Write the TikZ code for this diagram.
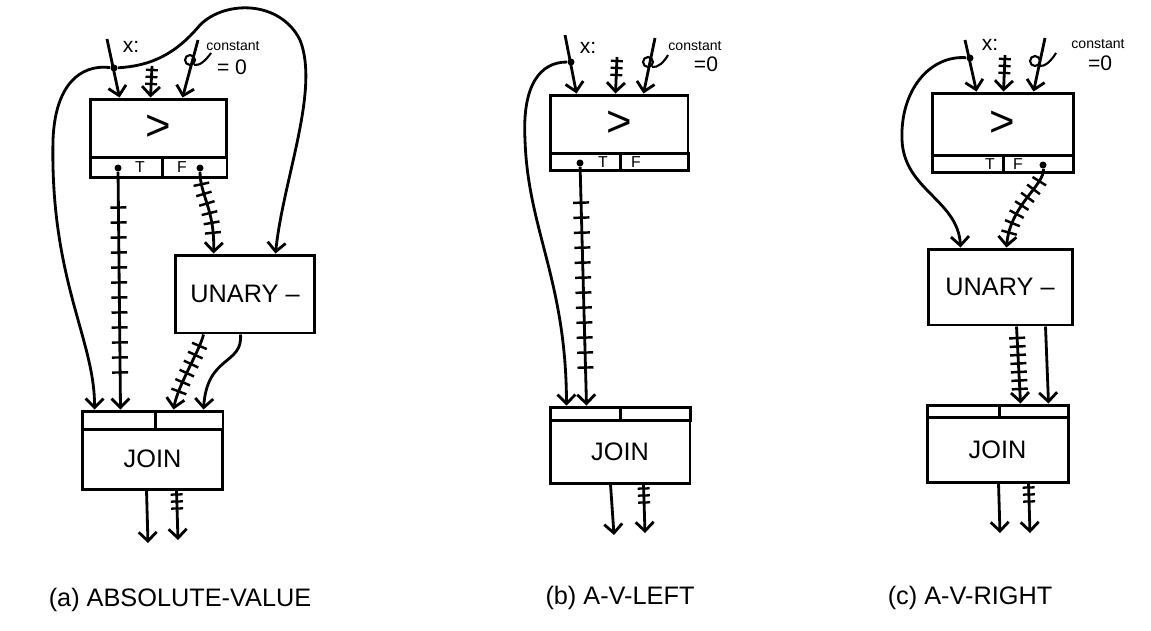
\documentclass[tikz,border=0pt]{standalone}
\usepackage{fontspec}
\setmainfont{Liberation Sans}
\usetikzlibrary{arrows.meta, decorations.markings}

\begin{document}
\begin{tikzpicture}[
    x=0.02cm, y=-0.02cm,
    >={Straight Barb[length=1.8mm, width=3.6mm]},
    box/.style={draw, rectangle, line width=1.7pt, inner sep=0pt, font=\Large},
    cell/.style={draw, rectangle, line width=1.7pt, inner sep=0pt},
    dot/.style={circle, fill, inner sep=0pt, minimum size=1.4mm},
    lbl/.style={inner sep=0pt, font=\small},
    wire/.style={->, line width=1.6pt},
    bundle/.style={wire, postaction={decorate}, decoration={markings,
        mark=between positions 0.15 and 0.85 step #1 with {\draw[-, line width=1.4pt] (0,-0.16cm) -- (0,0.16cm);}}},
    bundle/.default=0.3cm,
    fewticks/.style={wire, postaction={decorate}, decoration={markings,
        mark=between positions 0.08cm and 0.4cm step 0.14cm with {\draw[-, line width=1.3pt] (0,-0.12cm) -- (0,0.12cm);}}},
    curl/.style={line width=1.2pt}
]
    \useasboundingbox (0,0) rectangle (1151,630);

    % ---------- (a) ABSOLUTE-VALUE ----------
    % Блоки
    \node[box, minimum width=2.74cm, minimum height=1.16cm, font=\Huge] (gtA) at (158.5,128) {>};
    \node[cell, minimum width=1.44cm, minimum height=0.4cm] (tA) at (126,167) {};
    \node[cell, minimum width=1.30cm, minimum height=0.4cm] (fA) at (194.5,167) {};
    \node[lbl] at (140,167) {T};
    \node[lbl] at (182,167) {F};
    \node[box, minimum width=2.8cm, minimum height=1.56cm] (unA) at (245,294) {UNARY --};
    \node[cell, minimum width=1.46cm, minimum height=0.36cm] (j1A) at (118.5,420) {};
    \node[cell, minimum width=1.36cm, minimum height=0.36cm] (j2A) at (189,420) {};
    \node[box, minimum width=2.82cm, minimum height=1.2cm] (joinA) at (152.5,459) {JOIN};

    % Входы
    \coordinate (iA1) at (107,39);
    \coordinate (iA2) at (152,66);
    \coordinate (iA3) at (198,40);
    \node[dot] (dA) at (114,68) {};
    \node[dot] (tAo) at (118,168) {};
    \node[dot] (fAo) at (200,168) {};
    \node[inner sep=0pt, font=\large] at (131,47) {x:};
    \node[lbl, font=\footnotesize] at (233,46) {constant};
    \node[inner sep=0pt, font=\large] at (232,67) {= 0};
    \draw[wire] (iA1) -- ([xshift=0.62cm]gtA.north west);
    \draw[fewticks] (iA2) -- ([xshift=1.24cm]gtA.north west);
    \draw[wire] (iA3) -- ([xshift=1.88cm]gtA.north west);
    \draw[curl] (190,60) circle[radius=0.1cm];
    \draw[curl] (194,65) .. controls (200,66) and (206,60) .. (211,53);

    % Переходы
    \draw[wire] (dA) .. controls (80,64) and (55,85) .. (53,140) .. controls (50,280) and (95,340) .. ([xshift=0.28cm]j1A.north west);
    \draw[wire] (dA) .. controls (150,66) and (175,55) .. (200,25) .. controls (225,0) and (280,0) .. (300,40) .. controls (320,90) and (283,180) .. ([xshift=2.04cm]unA.north west);
    \draw[bundle=0.3cm] (tAo) -- ([xshift=0.8cm]j1A.north west);
    \draw[bundle=0.2cm] (fAo) .. controls (200,195) and (215,210) .. ([xshift=0.8cm]unA.north west);
    \draw[bundle=0.2cm] ([xshift=0.6cm]unA.south west) .. controls (200,350) and (178,385) .. ([xshift=0.4cm]j2A.north west);
    \draw[wire] ([xshift=1.34cm]unA.south west) .. controls (243,365) and (207,355) .. ([xshift=1cm]j2A.north west);

    % Выходы
    \coordinate (oA1) at (148,543);
    \coordinate (oA2) at (178,540);
    \draw[wire] ([xshift=1.32cm]joinA.south west) -- (oA1);
    \draw[fewticks] ([xshift=1.92cm]joinA.south west) -- (oA2);
    \node[font=\Large] (capA) at (180,600) {(a) ABSOLUTE-VALUE};

    % ---------- (b) A-V-LEFT ----------
    % Блоки
    \node[box, minimum width=2.76cm, minimum height=1.16cm, font=\Huge] (gtB) at (619,124) {>};
    \node[cell, minimum width=1.40cm, minimum height=0.34cm] (tB) at (585,161.5) {};
    \node[cell, minimum width=1.36cm, minimum height=0.34cm] (fB) at (654,161.5) {};
    \node[lbl] at (603,162) {T};
    \node[lbl] at (636,162) {F};
    \node[cell, minimum width=1.4cm, minimum height=0.26cm] (j1B) at (585,413.5) {};
    \node[cell, minimum width=1.4cm, minimum height=0.26cm] (j2B) at (655,413.5) {};
    \node[box, minimum width=2.8cm, minimum height=1.26cm] (joinB) at (620,451.5) {JOIN};

    % Входы
    \coordinate (iB1) at (565,35);
    \coordinate (iB2) at (617,57);
    \coordinate (iB3) at (655,38);
    \node[dot] (dB) at (571,62) {};
    \node[dot] (tBo) at (580,163) {};
    \node[inner sep=0pt, font=\large] at (588,48) {x:};
    \node[lbl, font=\footnotesize] at (695,46) {constant};
    \node[inner sep=0pt, font=\large] at (706,64) {=0};
    \draw[wire] (iB1) -- ([xshift=0.56cm]gtB.north west);
    \draw[fewticks] (iB2) -- ([xshift=1.34cm]gtB.north west);
    \draw[wire] (iB3) -- ([xshift=1.9cm]gtB.north west);
    \draw[curl] (648,62) circle[radius=0.1cm];
    \draw[curl] (652,67) .. controls (658,68) and (664,62) .. (668,55);

    % Переходы
    \draw[wire] (dB) .. controls (540,62) and (522,85) .. (525,140) .. controls (528,230) and (566,280) .. ([xshift=0.36cm]j1B.north west);
    \draw[bundle=0.3cm] (tBo) -- ([xshift=0.76cm]j1B.north west);

    % Выходы
    \coordinate (oB1) at (614,535);
    \coordinate (oB2) at (645,533);
    \draw[wire] ([xshift=1.24cm]joinB.south west) -- (oB1);
    \draw[fewticks] ([xshift=1.9cm]joinB.south west) -- (oB2);
    \node[font=\Large] (capB) at (620,598) {(b) A-V-LEFT};

    % ---------- (c) A-V-RIGHT ----------
    % Блоки
    \node[box, minimum width=2.82cm, minimum height=1.24cm, font=\Huge] (gtC) at (1002.5,124) {>};
    \node[cell, minimum width=1.42cm, minimum height=0.34cm] (tC) at (967.5,163.5) {};
    \node[cell, minimum width=1.40cm, minimum height=0.34cm] (fC) at (1038,163.5) {};
    \node[lbl] at (990,164) {T};
    \node[lbl] at (1018,164) {F};
    \node[box, minimum width=2.88cm, minimum height=1.52cm] (unC) at (1000,287) {UNARY --};
    \node[cell, minimum width=1.44cm, minimum height=0.24cm] (j1C) at (963,411) {};
    \node[cell, minimum width=1.38cm, minimum height=0.24cm] (j2C) at (1033.5,411) {};
    \node[box, minimum width=2.82cm, minimum height=1.3cm] (joinC) at (997.5,449.5) {JOIN};

    % Входы
    \coordinate (iC1) at (965,40);
    \coordinate (iC2) at (1005,55);
    \coordinate (iC3) at (1045,38);
    \node[dot] (dC) at (970,58) {};
    \node[dot] (fCo) at (1043,165) {};
    \node[inner sep=0pt, font=\large] at (990,45) {x:};
    \node[lbl, font=\footnotesize] at (1098,44) {constant};
    \node[inner sep=0pt, font=\large] at (1100,63) {=0};
    \draw[wire] (iC1) -- ([xshift=0.92cm]gtC.north west);
    \draw[fewticks] (iC2) -- ([xshift=1.46cm]gtC.north west);
    \draw[wire] (iC3) -- ([xshift=2.06cm]gtC.north west);
    \draw[curl] (1035,61) circle[radius=0.1cm];
    \draw[curl] (1039,66) .. controls (1045,67) and (1051,61) .. (1056,53);

    % Переходы
    \draw[wire] (dC) .. controls (930,55) and (900,90) .. (902,140) .. controls (904,190) and (958,200) .. ([xshift=0.68cm]unC.north west);
    \draw[bundle=0.2cm] (fCo) .. controls (1045,185) and (1010,205) .. ([xshift=1.6cm]unC.north west);
    \draw[bundle=0.17cm] ([xshift=1.8cm]unC.south west) -- ([xshift=0.46cm]j2C.north west);
    \draw[wire] ([xshift=2.38cm]unC.south west) -- ([xshift=1.02cm]j2C.north west);

    % Выходы
    \coordinate (oC1) at (1000,533);
    \coordinate (oC2) at (1030,533);
    \draw[wire] ([xshift=1.46cm]joinC.south west) -- (oC1);
    \draw[fewticks] ([xshift=2.06cm]joinC.south west) -- (oC2);
    \node[font=\Large] (capC) at (970,598) {(c) A-V-RIGHT};
\end{tikzpicture}
\end{document}
